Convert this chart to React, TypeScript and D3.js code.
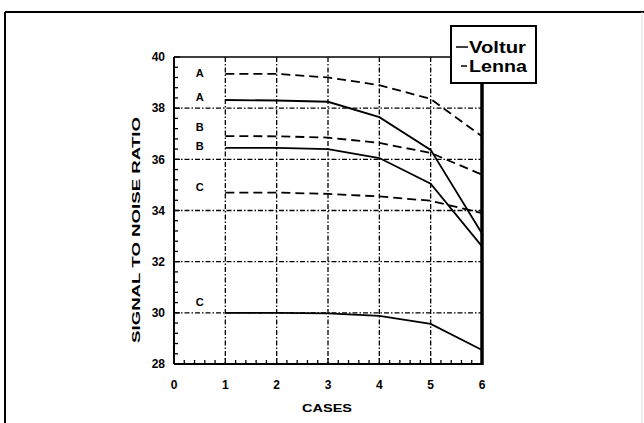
import React from "react";
import * as d3 from "d3";

const cases = [1, 2, 3, 4, 5, 6];
const volturA = [38.32, 38.3, 38.25, 37.65, 36.37, 33.1];
const volturB = [36.45, 36.45, 36.4, 36.05, 35.05, 32.6];
const volturC = [30.0, 30.0, 29.98, 29.88, 29.57, 28.55];
const lennaA = [39.34, 39.34, 39.2, 38.9, 38.36, 36.9];
const lennaB = [36.91, 36.9, 36.85, 36.64, 36.25, 35.4];
const lennaC = [34.7, 34.7, 34.65, 34.55, 34.38, 33.9];

const curveLetters = ["A", "A", "B", "B", "C", "C"];
const curveLetterValues = [39.37, 38.44, 37.26, 36.52, 34.92, 30.42];
const curveLetterX = 0.5;

const xTicks = [0, 1, 2, 3, 4, 5, 6];
const yTicks = [28, 30, 32, 34, 36, 38, 40];
const legendNames = ["Voltur", "Lenna"];

const W = 644;
const H = 423;

export default function App() {
  const x = d3.scaleLinear().domain([0, 6]).range([174, 482]);
  const y = d3.scaleLinear().domain([28, 40]).range([364, 57]);
  const line = d3
    .line<number>()
    .x((_, i) => x(cases[i]))
    .y((d) => y(d));

  const xMinor = d3.range(0, 6.0001, 0.2);
  const yMinor = d3.range(28, 40.0001, 0.4);
  const font = "'Liberation Sans', Arial, sans-serif";
  const gridDash = "5,2,1.5,2";

  const solid = [volturA, volturB, volturC];
  const dashed = [lennaA, lennaB, lennaC];

  return (
    <svg
      width={W}
      height={H}
      style={{ position: "absolute", left: 0, top: 0, background: "#fff" }}
    >
      {/* outer frame */}
      <line x1={5} y1={12} x2={W} y2={12} stroke="#000" strokeWidth={2} />
      <line x1={5} y1={12} x2={5} y2={H} stroke="#000" strokeWidth={2} />
      <line x1={642} y1={12} x2={642} y2={H} stroke="#ddd" strokeWidth={1} />

      {/* grid */}
      {xTicks.slice(1, 6).map((t) => (
        <line
          key={"gx" + t}
          x1={x(t)}
          x2={x(t)}
          y1={y(40)}
          y2={y(28)}
          stroke="#000"
          strokeWidth={1.3}
          strokeDasharray={gridDash}
        />
      ))}
      {yTicks.slice(1, 6).map((t) => (
        <line
          key={"gy" + t}
          x1={x(0)}
          x2={x(6)}
          y1={y(t)}
          y2={y(t)}
          stroke="#000"
          strokeWidth={1.3}
          strokeDasharray={gridDash}
        />
      ))}

      {/* minor ticks */}
      {xMinor.map((t, i) => (
        <line
          key={"mx" + i}
          x1={x(t)}
          x2={x(t)}
          y1={y(28)}
          y2={y(28) - (i % 5 === 0 ? 6 : 4)}
          stroke="#000"
          strokeWidth={1.3}
        />
      ))}
      {yMinor.map((t, i) => (
        <line
          key={"my" + i}
          x1={x(0)}
          x2={x(0) + (i % 5 === 0 ? 6 : 4)}
          y1={y(t)}
          y2={y(t)}
          stroke="#000"
          strokeWidth={1.3}
        />
      ))}

      {/* axes frame */}
      <line x1={x(0)} y1={y(40)} x2={x(6)} y2={y(40)} stroke="#000" strokeWidth={1.5} />
      <line x1={x(0)} y1={y(40)} x2={x(0)} y2={y(28)} stroke="#000" strokeWidth={2} />
      <line x1={x(0)} y1={y(28)} x2={x(6)} y2={y(28)} stroke="#000" strokeWidth={2} />
      <line x1={x(6)} y1={y(40)} x2={x(6)} y2={y(28) + 1} stroke="#000" strokeWidth={3.5} />

      {/* series */}
      {solid.map((s, i) => (
        <path key={"s" + i} d={line(s) || ""} fill="none" stroke="#000" strokeWidth={1.8} />
      ))}
      {dashed.map((s, i) => (
        <path
          key={"d" + i}
          d={line(s) || ""}
          fill="none"
          stroke="#000"
          strokeWidth={1.8}
          strokeDasharray="9,5"
        />
      ))}

      {/* curve letters */}
      {curveLetters.map((c, i) => (
        <text
          key={"c" + i}
          x={x(curveLetterX)}
          y={y(curveLetterValues[i])}
          dy="0.36em"
          textAnchor="middle"
          fontFamily={font}
          fontWeight="bold"
          fontSize={11}
        >
          {c}
        </text>
      ))}

      {/* tick labels */}
      {xTicks.map((t) => (
        <text
          key={"xl" + t}
          x={x(t)}
          y={389}
          textAnchor="middle"
          fontFamily={font}
          fontWeight="bold"
          fontSize={12}
        >
          {t}
        </text>
      ))}
      {yTicks.map((t) => (
        <text
          key={"yl" + t}
          x={165}
          y={y(t)}
          dy="0.36em"
          textAnchor="end"
          fontFamily={font}
          fontWeight="bold"
          fontSize={12}
        >
          {t}
        </text>
      ))}

      {/* axis titles */}
      <text
        x={327}
        y={412}
        textAnchor="middle"
        fontFamily={font}
        fontWeight="bold"
        fontSize={11}
        textLength={50}
        lengthAdjust="spacingAndGlyphs"
      >
        CASES
      </text>
      <text
        transform={`translate(140,230) rotate(-90)`}
        textAnchor="middle"
        fontFamily={font}
        fontWeight="bold"
        fontSize={11}
        textLength={226}
        lengthAdjust="spacingAndGlyphs"
      >
        SIGNAL TO NOISE RATIO
      </text>

      {/* legend */}
      <rect x={451} y={26} width={85} height={57} fill="#fff" stroke="#000" strokeWidth={2} />
      <line x1={456} x2={468} y1={47} y2={47} stroke="#000" strokeWidth={1.5} />
      <line x1={461} x2={467} y1={66} y2={66} stroke="#000" strokeWidth={1.5} />
      <text
        x={469}
        y={53}
        fontFamily={font}
        fontWeight="bold"
        fontSize={17}
        textLength={57}
        lengthAdjust="spacingAndGlyphs"
      >
        {legendNames[0]}
      </text>
      <text
        x={469}
        y={72}
        fontFamily={font}
        fontWeight="bold"
        fontSize={17}
        textLength={58}
        lengthAdjust="spacingAndGlyphs"
      >
        {legendNames[1]}
      </text>
    </svg>
  );
}
